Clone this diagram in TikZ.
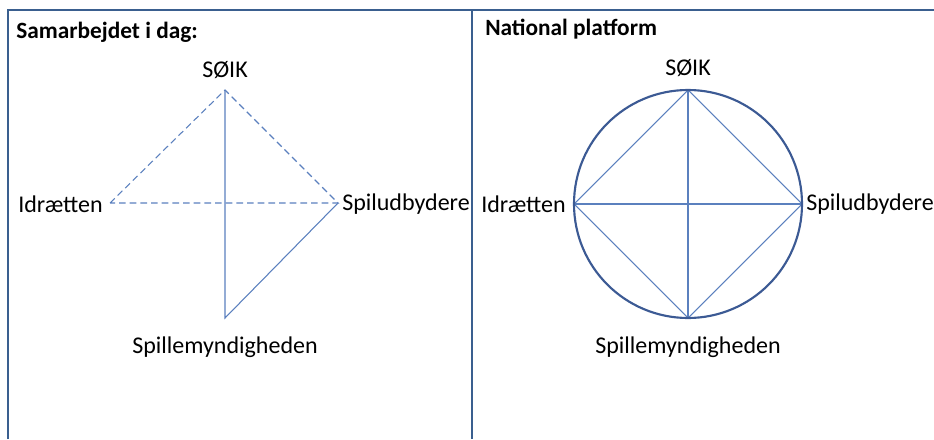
\documentclass[tikz,border=0pt]{standalone}
\usepackage{fontspec}
\setmainfont{Carlito}
\definecolor{frame}{HTML}{3A5F8F}
\definecolor{lineblue}{HTML}{5B80BE}
\definecolor{circ}{HTML}{3C5A94}
\begin{document}
\begin{tikzpicture}[x=0.75pt,y=-0.75pt,
  lbl/.style={font=\fontsize{18}{20}\selectfont, inner sep=0pt},
  ttl/.style={font=\fontsize{17.5}{20}\selectfont\bfseries, inner sep=0pt, anchor=west},
  thin/.style={draw=lineblue, line width=0.8pt},
  dsh/.style={draw=lineblue, line width=0.8pt, dash pattern=on 5pt off 3pt},
  frm/.style={draw=frame, line width=1.5pt}]
\useasboundingbox (0,0) rectangle (934,439);
% frames
\draw[frm] (8,439) -- (8,10) -- (934,10);
\draw[frm] (472,10) -- (472,439);
% titles
\node[ttl] (t1) at (16,32) {Samarbejdet i dag:};
\node[ttl] (t2) at (485,29) {National platform};
% left diagram
\coordinate (lt) at (225,90);
\coordinate (ll) at (110,203);
\coordinate (lr) at (338,203);
\coordinate (lb) at (225,318);
\draw[dsh] (ll) -- (lt) -- (lr) -- (ll);
\draw[thin] (lt) -- (lb) -- (lr);
\node[lbl] (ls) at (225,70) {SØIK};
\node[lbl, anchor=east] (li) at (103,204) {Idrætten};
\node[lbl, anchor=west] (lsp) at (342,204) {Spiludbydere};
\node[lbl] (lm) at (225,347) {Spillemyndigheden};
% right diagram
\coordinate (rc) at (688,204);
\coordinate (rt) at (688,90);
\coordinate (rl) at (574,204);
\coordinate (rr) at (802,204);
\coordinate (rb) at (688,318);
\draw[thin] (rt) -- (rr) -- (rb) -- (rl) -- cycle;
\draw[thin] (rt) -- (rb);
\draw[thin] (rl) -- (rr);
\draw[draw=circ, line width=1.6pt] (rc) circle[radius=85.5pt];
\node[lbl] (rs) at (688,68) {SØIK};
\node[lbl, anchor=east] (ri) at (566,204) {Idrætten};
\node[lbl, anchor=west] (rsp) at (806,204) {Spiludbydere};
\node[lbl] (rm) at (688,347) {Spillemyndigheden};
\end{tikzpicture}
\end{document}
